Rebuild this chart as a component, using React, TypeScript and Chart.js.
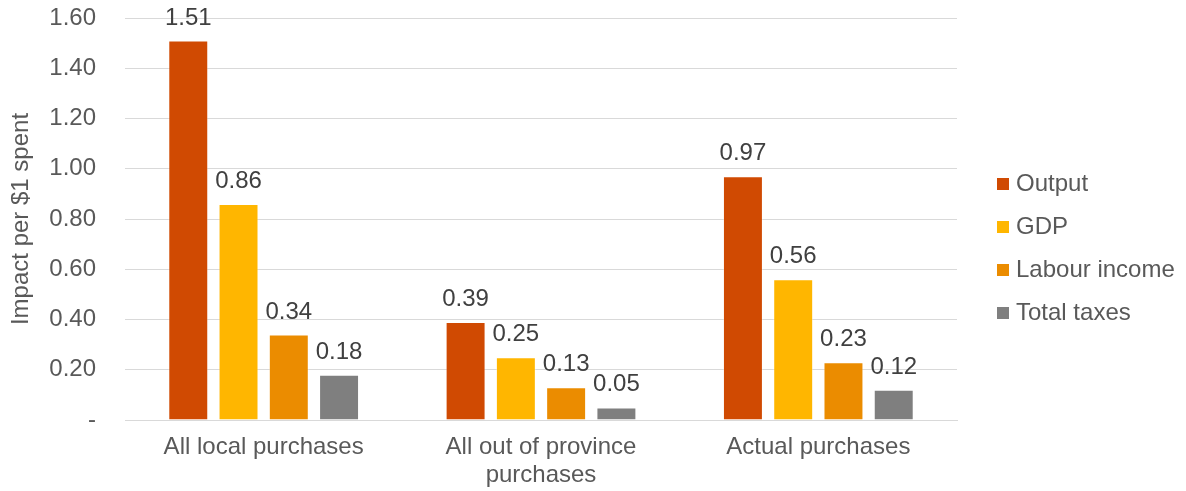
import React, { useEffect, useRef } from "react";
import { Chart, registerables } from "chart.js";

Chart.register(...registerables);

const categories: (string | string[])[] = [
  "All local purchases",
  ["All out of province", "purchases"],
  "Actual purchases",
];

const seriesNames = ["Output", "GDP", "Labour income", "Total taxes"];
const seriesColors = ["#D04A02", "#FFB600", "#EB8C00", "#7F7F7F"];

const outputValues = [1.51, 0.39, 0.97];
const gdpValues = [0.86, 0.25, 0.56];
const labourValues = [0.34, 0.13, 0.23];
const taxValues = [0.18, 0.05, 0.12];

const yTicks = [0, 0.2, 0.4, 0.6, 0.8, 1.0, 1.2, 1.4, 1.6];

const FONT = "'Liberation Sans', Arial, sans-serif";
const FONT_SIZE = 24;
const TEXT_GRAY = "#595959";
const LABEL_DARK = "#404040";

// Writes the value above every bar
const valueLabels = {
  id: "valueLabels",
  afterDatasetsDraw(chart: any) {
    const ctx = chart.ctx;
    ctx.save();
    ctx.font = `${FONT_SIZE}px ${FONT}`;
    ctx.fillStyle = LABEL_DARK;
    ctx.textAlign = "center";
    ctx.textBaseline = "alphabetic";
    chart.data.datasets.forEach((ds: any, di: number) => {
      const meta = chart.getDatasetMeta(di);
      meta.data.forEach((bar: any, i: number) => {
        const v = ds.data[i] as number;
        ctx.fillText(v.toFixed(2), bar.x, bar.y - 16);
      });
    });
    ctx.restore();
  },
};

// Vertical legend drawn to the right of the plot
const sideLegend = {
  id: "sideLegend",
  afterDraw(chart: any) {
    const ctx = chart.ctx;
    const left = chart.chartArea.right + 40;
    const firstY = 183;
    const step = 43;
    ctx.save();
    ctx.font = `${FONT_SIZE}px ${FONT}`;
    ctx.textBaseline = "middle";
    ctx.textAlign = "left";
    chart.data.datasets.forEach((ds: any, i: number) => {
      const cy = firstY + i * step;
      ctx.fillStyle = ds.backgroundColor;
      ctx.fillRect(left, cy - 5, 12, 12);
      ctx.fillStyle = TEXT_GRAY;
      ctx.fillText(ds.label, left + 19, cy + 1);
    });
    ctx.restore();
  },
};

export default function App() {
  const canvasRef = useRef<HTMLCanvasElement | null>(null);

  useEffect(() => {
    if (!canvasRef.current) return;
    const seriesValues = [outputValues, gdpValues, labourValues, taxValues];
    const chart = new Chart(canvasRef.current, {
      type: "bar",
      data: {
        labels: categories,
        datasets: seriesNames.map((name, i) => ({
          label: name,
          data: seriesValues[i],
          backgroundColor: seriesColors[i],
          borderColor: "rgba(255,255,255,0.35)",
          borderWidth: 1,
          categoryPercentage: 0.725,
          barPercentage: 0.795,
        })),
      },
      options: {
        responsive: false,
        animation: false,
        layout: { padding: { top: 18, right: 229, left: 0, bottom: 0 } },
        font: { family: FONT, size: FONT_SIZE },
        plugins: {
          legend: { display: false },
          tooltip: { enabled: false },
        },
        scales: {
          x: {
            grid: { display: false, drawTicks: false },
            border: { display: true, color: "#D9D9D9", width: 1 },
            ticks: {
              color: TEXT_GRAY,
              font: { family: FONT, size: FONT_SIZE, lineHeight: 1.17 },
              padding: 13,
              maxRotation: 0,
              autoSkip: false,
            },
            afterFit(scale: any) {
              scale.height = 71;
              scale.paddingLeft = 0;
              scale.paddingRight = 0;
            },
          },
          y: {
            min: 0,
            max: 1.6,
            afterBuildTicks(scale: any) {
              scale.ticks = yTicks.map((v) => ({ value: v }));
            },
            grid: { color: "#D9D9D9", lineWidth: 1, drawTicks: false },
            border: { display: false },
            ticks: {
              color: TEXT_GRAY,
              font: { family: FONT, size: FONT_SIZE },
              padding: 29,
              callback: (v: any) => (Number(v) === 0 ? "-" : Number(v).toFixed(2)),
            },
            title: {
              display: true,
              text: "Impact per $1 spent",
              color: TEXT_GRAY,
              font: { family: FONT, size: FONT_SIZE },
              padding: { top: 7, bottom: 0 },
            },
            afterFit(scale: any) {
              scale.width = 125;
              scale.paddingTop = 0;
              scale.paddingBottom = 0;
            },
          },
        },
      },
      plugins: [valueLabels, sideLegend],
    });
    return () => chart.destroy();
  }, []);

  return (
    <div style={{ position: "fixed", left: 0, top: 0, width: 1186, height: 491, background: "#fff" }}>
      <canvas ref={canvasRef} width={1186} height={491} />
    </div>
  );
}
